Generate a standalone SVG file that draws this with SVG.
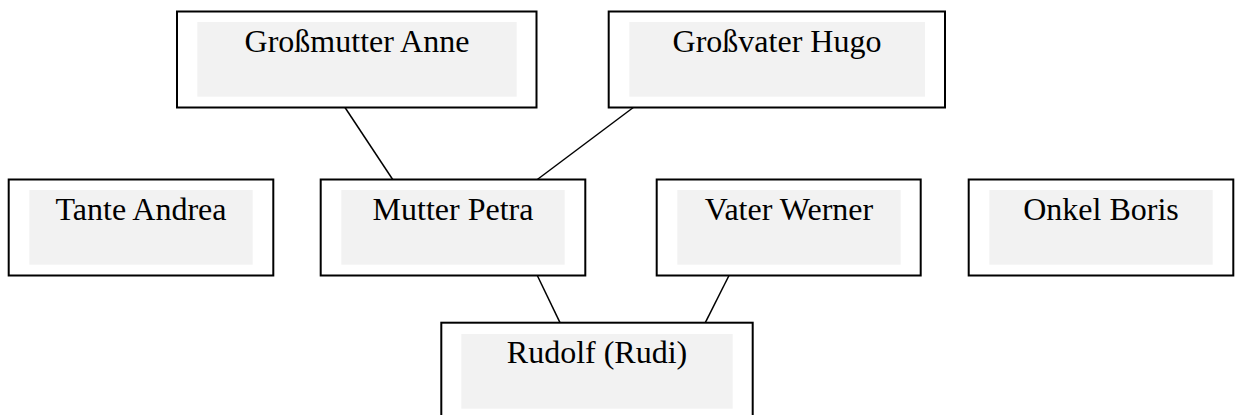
<svg xmlns="http://www.w3.org/2000/svg" width="1235" height="415" viewBox="0 0 1235 415">
<style>
.box{fill:#ffffff;stroke:#000000;stroke-width:2}
.inner{fill:#f2f2f2;stroke:none}
.lbl{font-family:"Liberation Serif","Times New Roman",serif;font-size:32px;fill:#000000;text-anchor:middle}
.con{stroke:#000000;stroke-width:1.5;fill:none}
</style>
<rect width="1235" height="415" fill="#ffffff"/>
<g id="connectors">
<line class="con" x1="345" y1="107.5" x2="392.7" y2="179.5"/>
<line class="con" x1="633.3" y1="107.5" x2="537.3" y2="179.5"/>
<line class="con" x1="537.3" y1="275.5" x2="560" y2="322.7"/>
<line class="con" x1="729" y1="275.5" x2="705.3" y2="322.7"/>
</g>
<g id="grossmutter-anne">
<rect class="box" x="177" y="11.5" width="359.5" height="96"/>
<rect class="inner" x="197.3" y="22" width="319.4" height="74.7"/>
<text class="lbl" x="357" y="51.5">Großmutter Anne</text>
</g>
<g id="grossvater-hugo">
<rect class="box" x="608.7" y="11.5" width="336.3" height="96"/>
<rect class="inner" x="629.3" y="22" width="295.7" height="74.7"/>
<text class="lbl" x="777" y="51.5">Großvater Hugo</text>
</g>
<g id="tante-andrea">
<rect class="box" x="8.7" y="179.5" width="264.6" height="96"/>
<rect class="inner" x="29.3" y="190" width="223.4" height="74.7"/>
<text class="lbl" x="141" y="220">Tante Andrea</text>
</g>
<g id="mutter-petra">
<rect class="box" x="320.7" y="179.5" width="264.6" height="96"/>
<rect class="inner" x="341.3" y="190" width="223.4" height="74.7"/>
<text class="lbl" x="453" y="220">Mutter Petra</text>
</g>
<g id="vater-werner">
<rect class="box" x="656.7" y="179.5" width="264" height="96"/>
<rect class="inner" x="677.3" y="190" width="223.4" height="74.7"/>
<text class="lbl" x="789" y="220">Vater Werner</text>
</g>
<g id="onkel-boris">
<rect class="box" x="968.7" y="179.5" width="264.6" height="96"/>
<rect class="inner" x="989.3" y="190" width="223.4" height="74.7"/>
<text class="lbl" x="1101" y="220">Onkel Boris</text>
</g>
<g id="rudolf-rudi">
<rect class="box" x="441.3" y="322.7" width="311.4" height="96.3"/>
<rect class="inner" x="461.3" y="334" width="271.4" height="74.7"/>
<text class="lbl" x="597" y="363">Rudolf (Rudi)</text>
</g>
</svg>
